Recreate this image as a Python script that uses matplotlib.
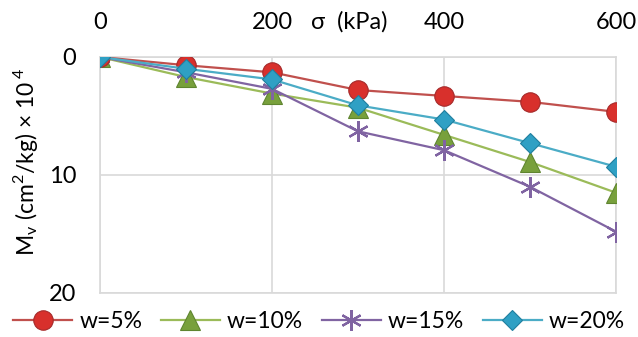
import matplotlib
matplotlib.use("Agg")
import matplotlib.pyplot as plt

# DATA
sigma = [0, 100, 200, 300, 400, 500, 600]
mv_w5 = [0, 0.7, 1.3, 2.8, 3.3, 3.8, 4.65]
mv_w10 = [0, 1.7, 3.1, 4.3, 6.6, 8.9, 11.5]
mv_w15 = [0, 1.3, 2.7, 6.3, 7.9, 11.0, 14.8]
mv_w20 = [0, 1.0, 1.9, 4.1, 5.3, 7.3, 9.3]
labels = ["w=5%", "w=10%", "w=15%", "w=20%"]
xticks = [0, 200, 400, 600]
yticks = [0, 10, 20]

plt.rcParams['font.family'] = ['Lato', 'DejaVu Sans']
plt.rcParams['mathtext.fontset'] = 'custom'
plt.rcParams['mathtext.rm'] = 'Lato'

fig = plt.figure(figsize=(6.38, 3.37), dpi=100)
ax = fig.add_axes([0.1567, 0.1306, 0.8088, 0.7003])

ax.plot(sigma, mv_w5, color='#c0504d', lw=1.6, marker='o', ms=14,
        mfc='#d8302c', mec='#a52a2a', mew=0.8, label=labels[0], zorder=5)
ax.plot(sigma, mv_w10, color='#9bbb59', lw=1.6, marker='^', ms=14,
        mfc='#78a03c', mec='#5f8530', mew=0.8, label=labels[1], zorder=4)
ax.plot(sigma, mv_w15, color='#8064a2', lw=1.6, marker=(6, 2, 0), ms=15,
        mec='#8064a2', mew=1.6, label=labels[2], zorder=4)
ax.plot(sigma, mv_w20, color='#4bacc6', lw=1.6, marker='D', ms=10,
        mfc='#2fa0c4', mec='#1f7f9f', mew=0.8, label=labels[3], zorder=6)

ax.set_xlim(0, 600)
ax.set_ylim(20, 0)
ax.set_xticks(xticks)
ax.set_yticks(yticks)
ax.xaxis.tick_top()
ax.tick_params(length=0, labelsize=17)
ax.tick_params(axis='x', pad=17)
ax.tick_params(axis='y', pad=17)
ax.grid(True, color='#d9d9d9', lw=1.2)
for s in ax.spines.values():
    s.set_color('#d9d9d9')
    s.set_linewidth(1.2)

fig.text(0.548, 0.935, "σ  (kPa)", fontsize=17, ha='center', va='center')
fig.text(0.04, 0.52, r"M$_\mathregular{v}$ (cm$^\mathregular{2}$/kg) × 10$^{\:\mathregular{4}}$",
         fontsize=16.5, rotation=90, ha='center', va='center')

fig.legend(loc='center', bbox_to_anchor=(0.5, 0.045), ncol=4, frameon=False,
           fontsize=16.5, handlelength=2.6, handletextpad=0.3, columnspacing=0.8,
           borderaxespad=0)

fig.savefig("out.png", dpi=100)
